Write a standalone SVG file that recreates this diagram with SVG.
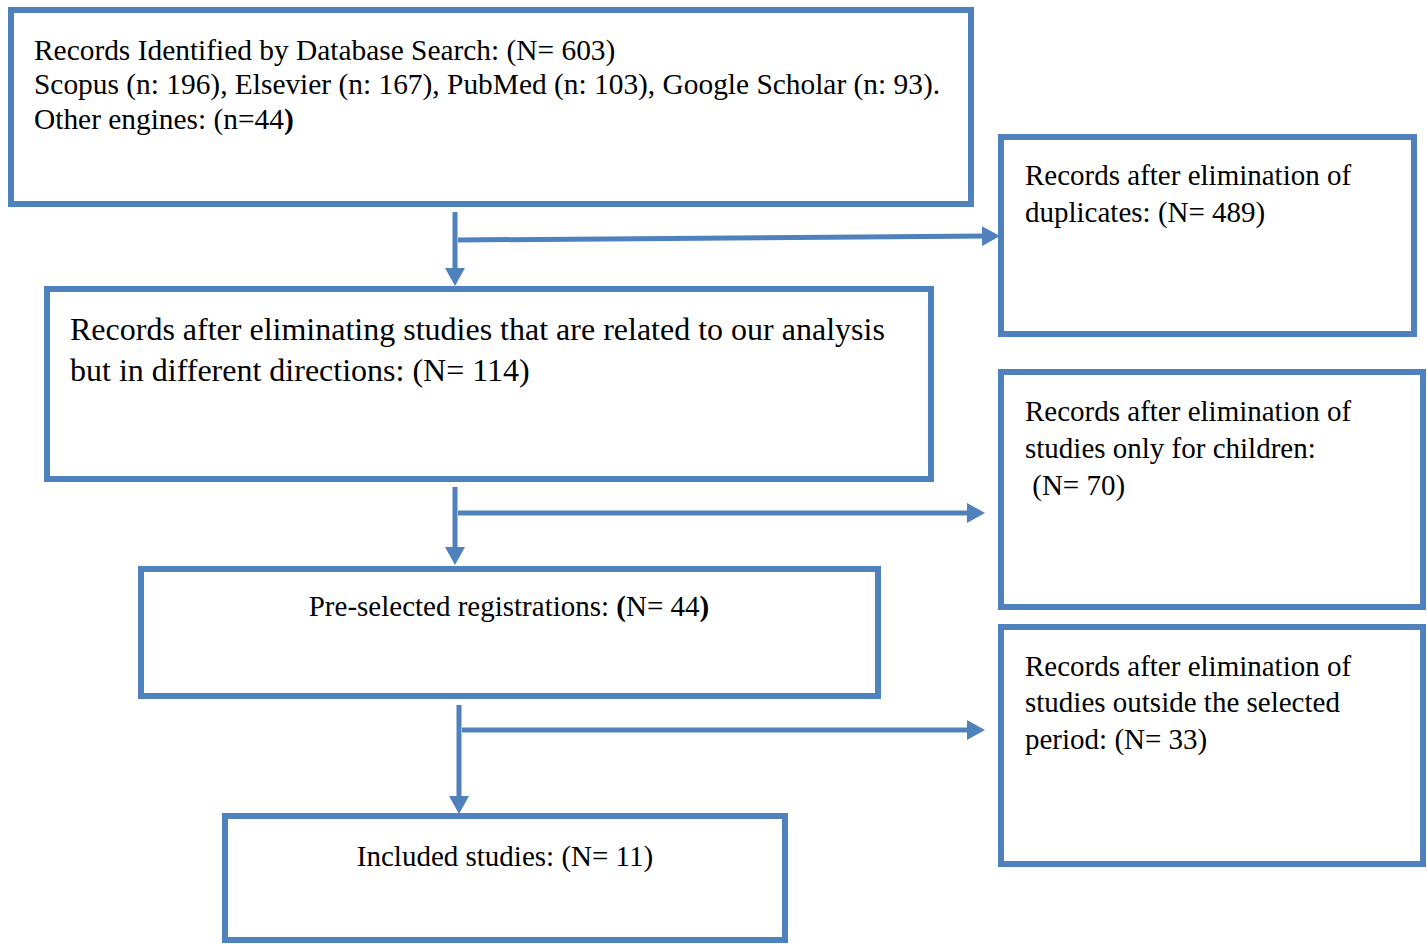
<svg xmlns="http://www.w3.org/2000/svg" width="1427" height="944" viewBox="0 0 1427 944">
<style>
.box{fill:#ffffff;stroke:#4F81BD;stroke-width:6}
.t{font-family:"Liberation Serif","Times New Roman",serif;font-size:29px;fill:#000}
.t1{font-family:"Liberation Serif","Times New Roman",serif;font-size:29.4px;fill:#000}
.t2{font-family:"Liberation Serif","Times New Roman",serif;font-size:32px;fill:#000}
.c{fill:none;stroke:#4F81BD;stroke-width:5}
</style>
<defs>
<marker id="ah" markerUnits="userSpaceOnUse" markerWidth="20" markerHeight="20" refX="6" refY="10" orient="auto" viewBox="0 0 18 20">
<path d="M0,0 L18,10 L0,20 Z" fill="#4F81BD"/>
</marker>
</defs>
<rect width="1427" height="944" fill="#ffffff"/>
<g id="connectors">
<line class="c" x1="455" y1="212" x2="455" y2="274" marker-end="url(#ah)"/>
<line class="c" x1="458" y1="240" x2="988" y2="236.1" marker-end="url(#ah)"/>
<line class="c" x1="455" y1="487" x2="455" y2="553" marker-end="url(#ah)"/>
<line class="c" x1="458" y1="513" x2="973" y2="513" marker-end="url(#ah)"/>
<line class="c" x1="459" y1="705" x2="459" y2="802" marker-end="url(#ah)"/>
<line class="c" x1="462" y1="730" x2="973" y2="730" marker-end="url(#ah)"/>
</g>
<g id="n-search">
<rect class="box" x="11" y="10" width="960" height="194"/>
<text class="t1" x="34" y="60">Records Identified by Database Search: (N= 603)</text>
<text class="t1" x="34" y="94">Scopus (n: 196), Elsevier (n: 167), PubMed (n: 103), Google Scholar (n: 93).</text>
<text class="t1" x="34" y="129">Other engines: (n=44<tspan font-weight="bold">)</tspan></text>
</g>
<g id="n-duplicates">
<rect class="box" x="1001" y="137" width="413" height="197"/>
<text class="t" x="1025" y="185">Records after elimination of</text>
<text class="t" x="1025" y="222">duplicates: (N= 489)</text>
</g>
<g id="n-directions">
<rect class="box" x="47" y="289" width="884" height="190"/>
<text class="t2" x="70" y="340">Records after eliminating studies that are related to our analysis</text>
<text class="t2" x="70" y="381">but in different directions: (N= 114)</text>
</g>
<g id="n-children">
<rect class="box" x="1001" y="372" width="422" height="235"/>
<text class="t" x="1025" y="421">Records after elimination of</text>
<text class="t" x="1025" y="458">studies only for children:</text>
<text class="t" x="1025" y="495" xml:space="preserve"> (N= 70)</text>
</g>
<g id="n-preselected">
<rect class="box" x="141" y="569" width="737" height="127"/>
<text class="t" x="509" y="616" text-anchor="middle">Pre-selected registrations: <tspan font-weight="bold">(</tspan>N= 44<tspan font-weight="bold">)</tspan></text>
</g>
<g id="n-period">
<rect class="box" x="1001" y="627" width="422" height="237"/>
<text class="t" x="1025" y="676">Records after elimination of</text>
<text class="t" x="1025" y="712">studies outside the selected</text>
<text class="t" x="1025" y="749">period: (N= 33)</text>
</g>
<g id="n-included">
<rect class="box" x="225" y="816" width="560" height="124"/>
<text class="t" x="505" y="866" text-anchor="middle">Included studies: (N= 11)</text>
</g>
</svg>
